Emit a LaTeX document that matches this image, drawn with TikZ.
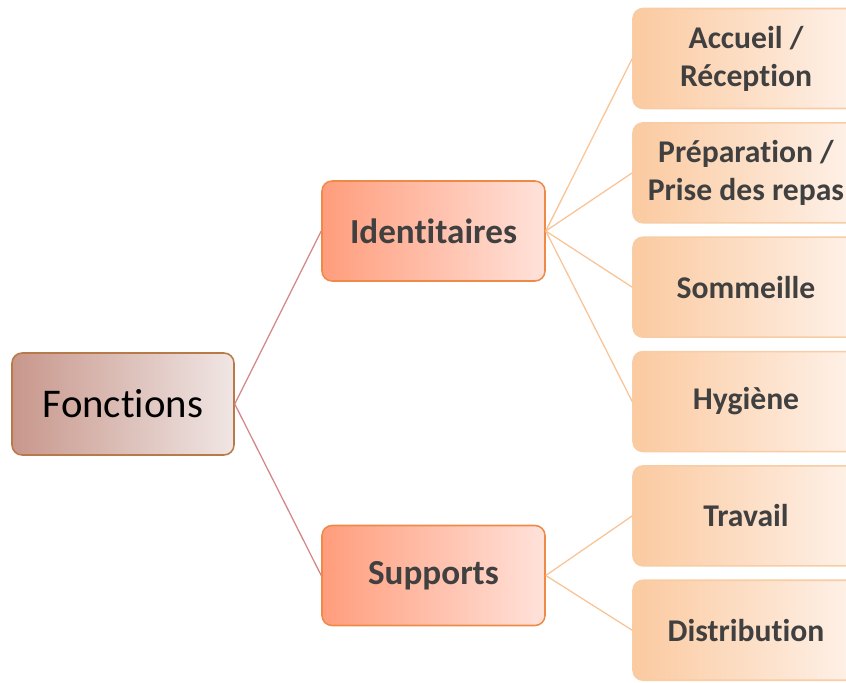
\documentclass[tikz,border=0pt]{standalone}
\usepackage{fontspec}
\setmainfont{Carlito}[Ligatures=NoCommon]
\usepackage{xcolor}
\usepackage{tikz}
\usetikzlibrary{positioning}
\definecolor{rootfillA}{HTML}{C8978C}
\definecolor{rootfillB}{HTML}{F0E6E4}
\definecolor{rootedge}{HTML}{B87A48}
\definecolor{midfillA}{HTML}{FF9D7C}
\definecolor{midfillB}{HTML}{FFE2DA}
\definecolor{midedge}{HTML}{EE8A48}
\definecolor{leaffillA}{HTML}{FBCAA0}
\definecolor{leaffillB}{HTML}{FEF2EA}
\definecolor{leafedge}{HTML}{F8CCA4}
\definecolor{rootlink}{HTML}{D4868A}
\definecolor{leaflink}{HTML}{F8C496}
\definecolor{labeltext}{HTML}{404040}

\begin{document}
\begin{tikzpicture}[
  node distance=0.32cm,
  rootbox/.style={rectangle, draw=rootedge, rounded corners=0.25cm, line width=1.1pt,
                  left color=rootfillA, right color=rootfillB,
                  minimum width=5.55cm, minimum height=2.55cm, align=center,
                  font=\fontsize{29}{35}\selectfont, text=black},
  midbox/.style={rectangle, draw=midedge, rounded corners=0.25cm, line width=1.1pt,
                 left color=midfillA, right color=midfillB,
                 minimum width=5.575cm, minimum height=2.5cm, align=center,
                 font=\fontsize{25}{30}\selectfont\bfseries, text=labeltext},
  leafbox/.style={rectangle, draw=leafedge, rounded corners=0.25cm, line width=1.1pt,
                  left color=leaffillA, right color=leaffillB,
                  minimum width=5.65cm, minimum height=2.5cm, align=center,
                  font=\fontsize{22.5}{27}\selectfont\bfseries, text=labeltext},
  rootline/.style={draw=rootlink, line width=0.9pt},
  leafline/.style={draw=leaflink, line width=0.9pt}]

  \useasboundingbox (0,0) rectangle (21.15,-17.05);
  \clip (0,0) rectangle (21.15,-17.05);

  \node[rootbox] (root) at (3.075,-10.1) {Fonctions};
  \node[midbox]  (ident) at (10.8375,-5.775) {Identitaires};
  \node[midbox]  (supp)  at (10.8375,-14.3875) {Supports};

  \node[leafbox] (accueil) at (18.65,-1.4625) {Accueil /\\Réception};
  \node[leafbox, below=of accueil] (repas)    {Préparation /\\Prise des repas};
  \node[leafbox, below=of repas]   (sommeil)  {Sommeille};
  \node[leafbox, below=of sommeil] (hygiene)  {Hygiène};
  \node[leafbox, below=of hygiene] (travail)  {Travail};
  \node[leafbox, below=of travail] (distrib)  {Distribution};

  \draw[rootline] (root.east) -- (ident.west);
  \draw[rootline] (root.east) -- (supp.west);

  \foreach \leaf in {accueil, repas, sommeil, hygiene}
    \draw[leafline] (ident.east) -- (\leaf.west);
  \foreach \leaf in {travail, distrib}
    \draw[leafline] (supp.east) -- (\leaf.west);
\end{tikzpicture}
\end{document}
